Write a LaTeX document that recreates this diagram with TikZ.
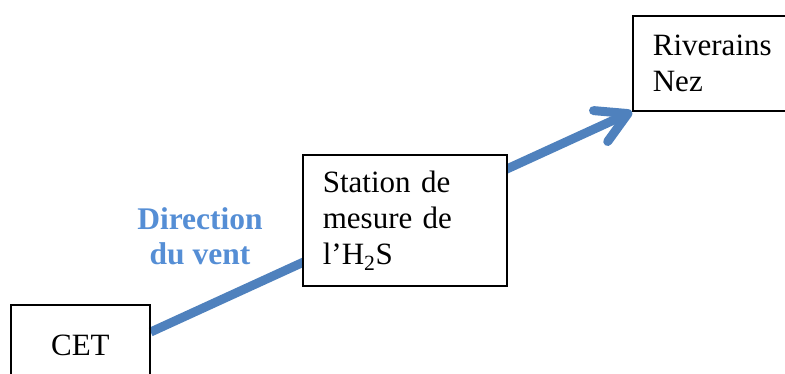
\documentclass[tikz,border=0pt]{standalone}
\usepackage{fontspec}
\setmainfont{Liberation Serif}
\usepackage{xcolor}
\usetikzlibrary{positioning, arrows.meta, backgrounds}

\definecolor{ventblue}{HTML}{4F81BD}
\definecolor{lblblue}{HTML}{558ED5}

\begin{document}
\begin{tikzpicture}[
        x=1pt, y=-1pt,
        box/.style={draw, line width=1.7pt, font=\fontsize{31}{36}\selectfont},
        wind/.style={line width=9pt, ventblue, -{Straight Barb[length=30pt, width=34pt, round]}},
        lbl/.style={font=\fontsize{31.5}{35}\selectfont\bfseries, text=lblblue, align=center}
    ]
        \useasboundingbox (0,0) rectangle (785,373);

        \node[box, anchor=north west, minimum width=139pt, minimum height=82pt] (cet) at (10,304) {CET};
        \node[box, anchor=north west, minimum width=204pt, minimum height=131pt,
              text width=164pt, inner xsep=20pt, align=left, fill=white] (station) at (302,154)
              {Station de\\mesure de\\l’H\textsubscript{2}S};
        \node[box, anchor=north west, minimum width=180pt, minimum height=95pt,
              text width=140pt, inner xsep=20pt, align=left] (riv) at (632,15) {Riverains\\Nez};

        \node[lbl] (dir) at (200,236) {Direction\\du vent};

        % wind arrow, passes behind the station
        \coordinate (start) at (cet.north east |- 0,332);
        \begin{scope}[on background layer]
            \draw[wind] (start) -- (riv.south west);
        \end{scope}
    \end{tikzpicture}
\end{document}
